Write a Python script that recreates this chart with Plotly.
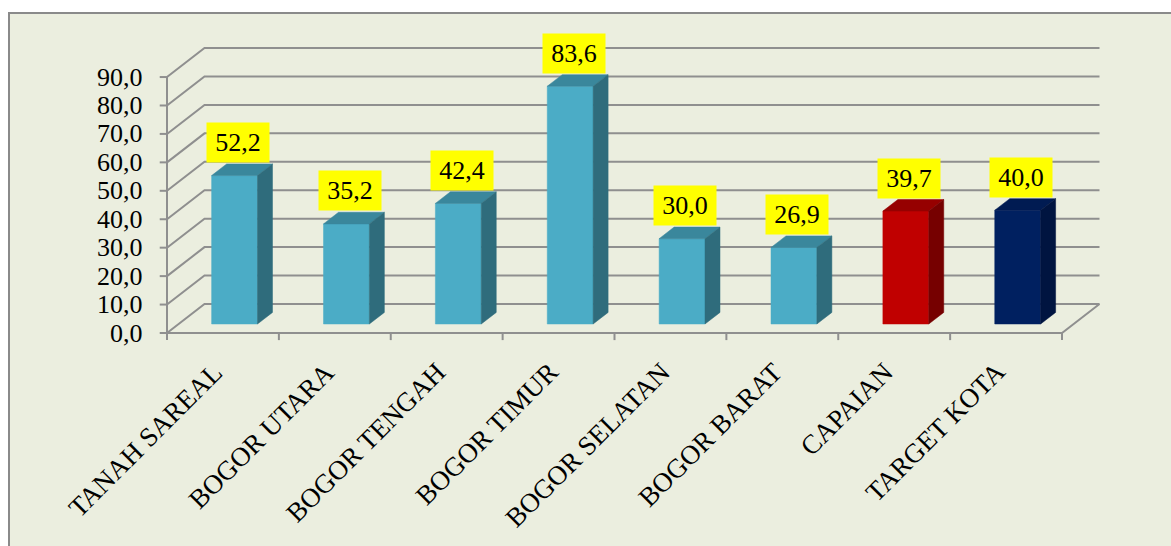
import plotly.graph_objects as go

# ---- data ----
categories = ["TANAH SAREAL", "BOGOR UTARA", "BOGOR TENGAH", "BOGOR TIMUR",
              "BOGOR SELATAN", "BOGOR BARAT", "CAPAIAN", "TARGET KOTA"]
values = [52.2, 35.2, 42.4, 83.6, 30.0, 26.9, 39.7, 40.0]
value_labels = ["52,2", "35,2", "42,4", "83,6", "30,0", "26,9", "39,7", "40,0"]
y_ticks = [0, 10, 20, 30, 40, 50, 60, 70, 80, 90]
y_tick_labels = ["0,0", "10,0", "20,0", "30,0", "40,0", "50,0", "60,0", "70,0", "80,0", "90,0"]
bar_kind = ["d", "d", "d", "d", "d", "d", "capaian", "target"]

# ---- styling ----
W, H = 1171, 546
ML, MR, MT, MB = 140, 60, 36, 200
PXU = 111.875   # px per category
PXV = 2.844     # px per value unit
ORIG_X, ORIG_Y = 167, 333  # pixel of front origin
DX = 37.5 / PXU   # depth offset in x units
DV = 29.0 / PXV   # depth offset in value units
F1, F2 = 0.31, 0.71
HW = 0.205
FONT = "Liberation Serif, Times New Roman, serif"
GRID = "#8F8F8F"
COLORS = {
    "d": ("#4BACC6", "#3A879C", "#2F6C7C"),
    "capaian": ("#C00000", "#960000", "#760000"),
    "target": ("#002060", "#001B52", "#001440"),
}

pw = W - ML - MR
ph = H - MT - MB
x0 = -(ORIG_X - ML) / PXU
x1 = x0 + pw / PXU
y0 = -(H - MB - ORIG_Y) / PXV
y1 = y0 + ph / PXV


def paper_x(px):
    return (px - ML) / pw


def paper_y(py):
    return (H - MB - py) / ph


fig = go.Figure()


def line(xs, ys, color=GRID, width=2):
    fig.add_trace(go.Scatter(x=xs, y=ys, mode="lines", line=dict(color=color, width=width),
                             hoverinfo="skip", showlegend=False))


def poly(xs, ys, color):
    fig.add_trace(go.Scatter(x=xs + [xs[0]], y=ys + [ys[0]], mode="lines", fill="toself",
                             fillcolor=color, line=dict(color=color, width=0.5),
                             hoverinfo="skip", showlegend=False))


n = len(categories)
# gridlines (left wall + back wall)
for v in y_ticks:
    line([0, DX, n + DX], [v, v + DV, v + DV])
    line([-0.065, 0], [v, v])  # tick
# front axis and floor
line([0, 0], [0, y_ticks[-1]])
line([0, n, n + DX], [0, 0, DV])
for i in range(n + 1):
    line([i, i], [0, -2.5])

# bars
for i, (val, kind) in enumerate(zip(values, bar_kind)):
    front, top, side = COLORS[kind]
    xl = i + 0.5 - HW
    xr = i + 0.5 + HW
    b1, b2 = F1 * DV, F2 * DV
    t1, t2 = b1 + val, b2 + val
    d1, d2 = F1 * DX, F2 * DX
    poly([xl + d1, xr + d1, xr + d1, xl + d1], [b1, b1, t1, t1], front)
    poly([xl + d1, xr + d1, xr + d2, xl + d2], [t1, t1, t2, t2], top)
    poly([xr + d1, xr + d2, xr + d2, xr + d1], [b1, b2, t2, t1], side)

annotations = []
for i, (val, lab) in enumerate(zip(values, value_labels)):
    annotations.append(dict(x=i + 0.5 + F1 * DX + 0.03, y=F2 * DV + val, xref="x", yref="y",
                            text=lab, showarrow=False, yanchor="bottom", xanchor="center",
                            yshift=1, bgcolor="#FFFF00", width=60, height=37, borderpad=1,
                            font=dict(family=FONT, size=26, color="black")))
for v, lab in zip(y_ticks, y_tick_labels):
    annotations.append(dict(x=0, y=v, xref="x", yref="y", text=lab, showarrow=False,
                            xanchor="right", yanchor="middle", xshift=-22,
                            font=dict(family=FONT, size=26, color="black")))
for i, cat in enumerate(categories):
    annotations.append(dict(x=i + 0.5, y=0, xref="x", yref="y", text=cat, showarrow=False,
                            xanchor="right", yanchor="top", textangle=-45, yshift=-21, xshift=8,
                            font=dict(family=FONT, size=27, color="black")))

shapes = [dict(type="rect", xref="paper", yref="paper", layer="below",
               x0=paper_x(9), x1=paper_x(W + 20), y0=paper_y(13), y1=paper_y(H + 20),
               fillcolor="#EBEEDF", line=dict(color="#8A8A8A", width=2))]

fig.update_layout(
    width=W, height=H,
    margin=dict(l=ML, r=MR, t=MT, b=MB),
    paper_bgcolor="white", plot_bgcolor="rgba(0,0,0,0)",
    xaxis=dict(range=[x0, x1], visible=False, fixedrange=True),
    yaxis=dict(range=[y0, y1], visible=False, fixedrange=True),
    annotations=annotations, shapes=shapes, showlegend=False,
)
fig.write_html("out.html")
